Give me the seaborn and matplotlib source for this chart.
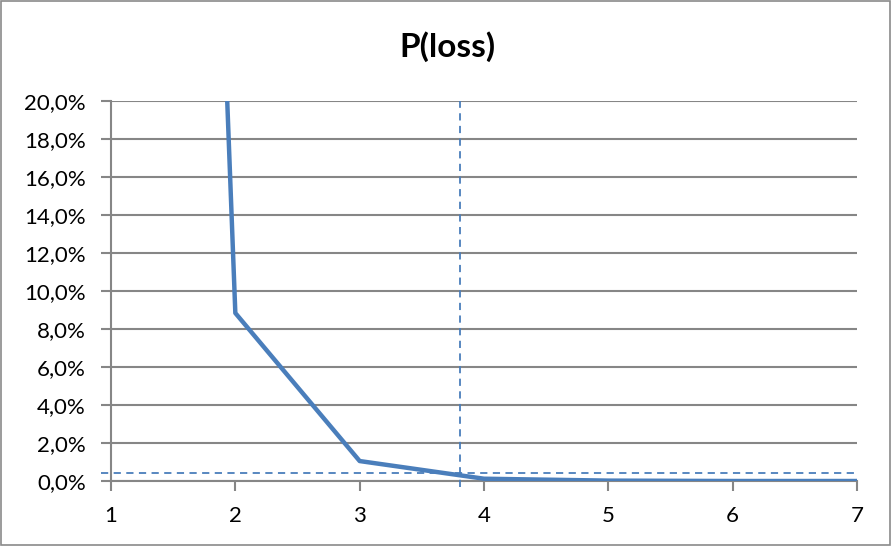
import matplotlib
matplotlib.use("Agg")
import matplotlib.pyplot as plt
import seaborn as sns
import pandas as pd
from matplotlib.patches import Rectangle
from matplotlib.ticker import FuncFormatter

# data
x_vals = [1, 2, 3, 4, 5, 6, 7]
p_loss = [1.80, 0.0884, 0.0105, 0.0012, 0.0002, 0.0, 0.0]
threshold_x = 3.81
threshold_y = 0.0042
x_ticks = [1, 2, 3, 4, 5, 6, 7]
y_ticks = [0.0, 0.02, 0.04, 0.06, 0.08, 0.10, 0.12, 0.14, 0.16, 0.18, 0.20]

sns.set_theme(style="white")
plt.rcParams['font.family'] = ['Lato', 'DejaVu Sans']

fig = plt.figure(figsize=(8.92, 5.46), dpi=100)
ax = fig.add_axes([111/892, 1-481/546, (857-111)/892, (481-101)/546])

blue = "#4A7EBB"
grid = "#868686"

df = pd.DataFrame({"x": x_vals, "p": p_loss})
sns.lineplot(data=df, x="x", y="p", ax=ax, color=blue, linewidth=3.2, zorder=4,
             estimator=None)

# dashed reference lines
hl = pd.DataFrame({"x": [0.92, 7.0], "p": [threshold_y, threshold_y]})
vl = pd.DataFrame({"x": [threshold_x, threshold_x], "p": [-0.003, 0.2]})
for d in (hl, vl):
    sns.lineplot(data=d, x="x", y="p", ax=ax, color=blue, linewidth=1.3,
                 linestyle=(0, (4, 3)), zorder=3, sort=False, estimator=None)
for l in ax.lines[1:]:
    l.set_clip_on(False)

ax.set_xlim(1, 7)
ax.set_ylim(0, 0.2)
ax.set_xticks(x_ticks)
ax.set_yticks(y_ticks)
ax.yaxis.set_major_formatter(FuncFormatter(lambda v, p: f"{v*100:.1f}%".replace(".", ",")))
ax.set_xlabel("")
ax.set_ylabel("")
ax.grid(axis="y", color=grid, linewidth=1.5)
ax.set_axisbelow(True)
for s in ["top", "right"]:
    ax.spines[s].set_visible(False)
for s in ["left", "bottom"]:
    ax.spines[s].set_color(grid)
    ax.spines[s].set_linewidth(1.5)
ax.tick_params(axis="both", which="major", direction="out", length=7, width=1.5,
               color=grid, labelsize=16, labelcolor="black")
ax.tick_params(axis="y", left=True, pad=11)
ax.tick_params(axis="x", bottom=True, pad=11)

fig.text(447/892, 1-57/546, "P(loss)", ha="center", va="baseline",
         fontsize=24, fontweight="bold", color="black")

fig.patches.append(Rectangle((0.001, 0.002), 0.997, 0.996, transform=fig.transFigure,
                             fill=False, edgecolor="#8a8a8a", linewidth=1.2))

fig.savefig("out.png", dpi=100)
